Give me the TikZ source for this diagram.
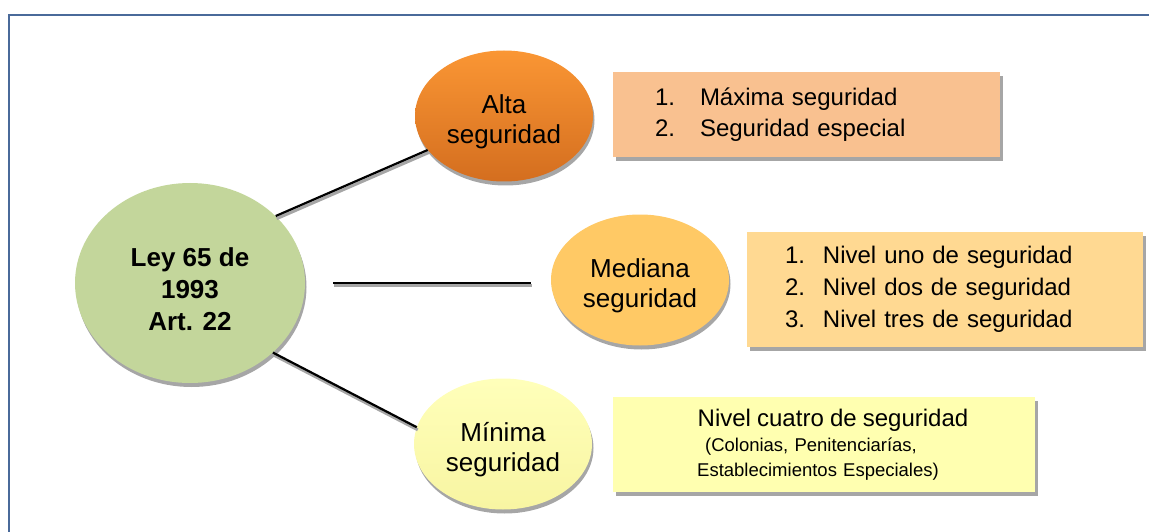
\documentclass[tikz,border=0pt]{standalone}
\usepackage{fontspec}
\setmainfont{Liberation Sans}
\usetikzlibrary{shapes.geometric,shadows}

\definecolor{frameblue}{HTML}{4A6A9A}
\definecolor{sombra}{HTML}{A6A6A6}
\definecolor{leyverde}{HTML}{C3D69B}
\definecolor{altaarriba}{HTML}{FA9634}
\definecolor{altaabajo}{HTML}{D46E1F}
\definecolor{mediana}{HTML}{FFC965}
\definecolor{minimaarriba}{HTML}{FFFFBA}
\definecolor{minimaabajo}{HTML}{F8F5A2}
\definecolor{cajaalta}{HTML}{F9C190}
\definecolor{cajamediana}{HTML}{FFD992}
\definecolor{cajaminima}{HTML}{FFFFB0}

\begin{document}
\begin{tikzpicture}[x=1pt,y=-1pt,
	  nivel/.style={ellipse, inner sep=0pt, align=center,
	    minimum width=178pt, minimum height=131pt, text height=60pt,
	    font=\fontsize{26}{30}\selectfont,
	    drop shadow={shadow xshift=1.5pt, shadow yshift=-4pt, fill=sombra, opacity=1}},
	  caja/.style={rectangle, inner ysep=0pt,
	    drop shadow={shadow xshift=3pt, shadow yshift=-4pt, fill=sombra, opacity=1}},
	  enlace/.style={black, line width=2.2pt,
	    preaction={draw=sombra, line width=3pt, transform canvas={xshift=1pt, yshift=-2.6pt}}}]
	  \useasboundingbox (0,0) rectangle (1149,532);

	  % marco
	  \draw[frameblue, line width=2.5pt] (9,560) -- (9,15) -- (1170,15);

	  % circulos
	  \node[nivel, minimum width=230pt, minimum height=200pt, text height=96pt, fill=leyverde,
	    font=\bfseries\fontsize{26}{32}\selectfont] (ley) at (190,283) {Ley 65 de\\1993\\Art. 22};
	  \node[nivel, top color=altaarriba, bottom color=altaabajo] (alta) at (504,116) {Alta\\seguridad};
	  \node[nivel, fill=mediana] (mediana) at (640,280) {Mediana\\seguridad};
	  \node[nivel, top color=minimaarriba, bottom color=minimaabajo] (minima) at (503,444) {Mínima\\seguridad};

	  % cajas
	  \node[caja, fill=cajaalta, text width=303pt, inner xsep=42pt, minimum height=85pt, align=left,
	    font=\fontsize{24}{31.5}\selectfont] (listaalta) at (806.5,114.5)
	    {\makebox[45pt][l]{1.}Máxima seguridad\\\makebox[45pt][l]{2.}Seguridad especial};
	  \node[caja, fill=cajamediana, text width=320pt, inner xsep=38pt, minimum height=115pt, align=left,
	    font=\fontsize{24}{32}\selectfont] (listamediana) at (945,289.5)
	    {\makebox[38pt][l]{1.}Nivel uno de seguridad\\\makebox[38pt][l]{2.}Nivel dos de seguridad\\\makebox[38pt][l]{3.}Nivel tres de seguridad};
	  \node[caja, fill=cajaminima, text width=402pt, inner xsep=10pt, minimum height=95pt, align=center,
	    font=\fontsize{18.5}{25}\selectfont] (listaminima) at (824,444.5)
	    {\hspace*{18pt}{\fontsize{24}{25}\selectfont Nivel cuatro de seguridad}\\\hspace*{-26pt}(Colonias, Penitenciarías,\\\hspace*{-12pt}Establecimientos Especiales)};

	  % enlaces
	  \draw[enlace] (ley.38) -- (alta.204);
	  \draw[enlace, shorten <=28pt, shorten >=20pt] (ley.east) -- (ley.east -| mediana.west);
	  \draw[enlace] (ley.-40) -- (minima.169);
	\end{tikzpicture}
\end{document}
